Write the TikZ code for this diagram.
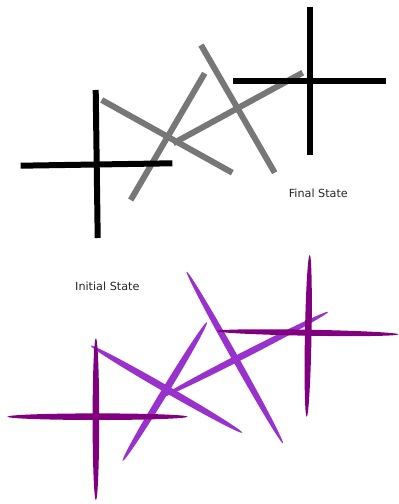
\documentclass[tikz,border=0pt]{standalone}
\usepackage{fontspec}
\setmainfont{DejaVu Sans}
\definecolor{dpurple}{HTML}{800080}
\definecolor{lpurple}{HTML}{9932CC}
\definecolor{grayline}{HTML}{777777}
\begin{document}
\begin{tikzpicture}[x=1pt,y=1pt,
  blackbar/.style={draw=black,line width=6pt},
  graybar/.style={draw=grayline,line width=6pt},
  lab/.style={font=\fontsize{11.2}{13}\selectfont,text=black!85,inner sep=0pt}]
\useasboundingbox (0,0) rectangle (399,504);
% final state (top)
\draw[graybar] (101.7,404) -- (232.3,331.3);
\draw[graybar] (130.7,304) -- (204.7,430.7);
\draw[graybar] (173.3,360.7) -- (302.7,431.3);
\draw[graybar] (201,459) -- (274.7,331.3);
\draw[blackbar] (95.7,414) -- (97.7,266);
\draw[blackbar] (20.7,338.3) -- (172.3,340.7);
\draw[blackbar] (309.7,497.3) -- (309.7,349);
\draw[blackbar] (233.3,423) -- (385.7,423);
\node[lab] (final) at (318.3,310.7) {Final State};
% initial state (bottom)
\fill[lpurple,shift={(166.5,114.8)},rotate=-29.9] (0,0) ellipse [x radius=87.5pt,y radius=3.5pt];
\fill[lpurple,shift={(164.8,112.4)},rotate=58.7] (0,0) ellipse [x radius=81.2pt,y radius=3.5pt];
\fill[lpurple,shift={(244.2,149.1)},rotate=27.15] (0,0) ellipse [x radius=94.6pt,y radius=3.3pt];
\fill[lpurple,shift={(234.8,146.5)},rotate=-60.7] (0,0) ellipse [x radius=98.4pt,y radius=3.3pt];
\fill[dpurple,shift={(95.9,84.8)}] (0,0) ellipse [x radius=3.3pt,y radius=81pt];
\fill[dpurple,shift={(97.5,87.3)}] (0,0) ellipse [x radius=90.2pt,y radius=3.3pt];
\fill[dpurple,shift={(308.2,168.2)},rotate=-1.06] (0,0) ellipse [x radius=3.3pt,y radius=81pt];
\fill[dpurple,shift={(307.5,171.3)},rotate=-1.04] (0,0) ellipse [x radius=91pt,y radius=3pt];
\node[lab] (initial) at (107.3,217.3) {Initial State};
\end{tikzpicture}
\end{document}
